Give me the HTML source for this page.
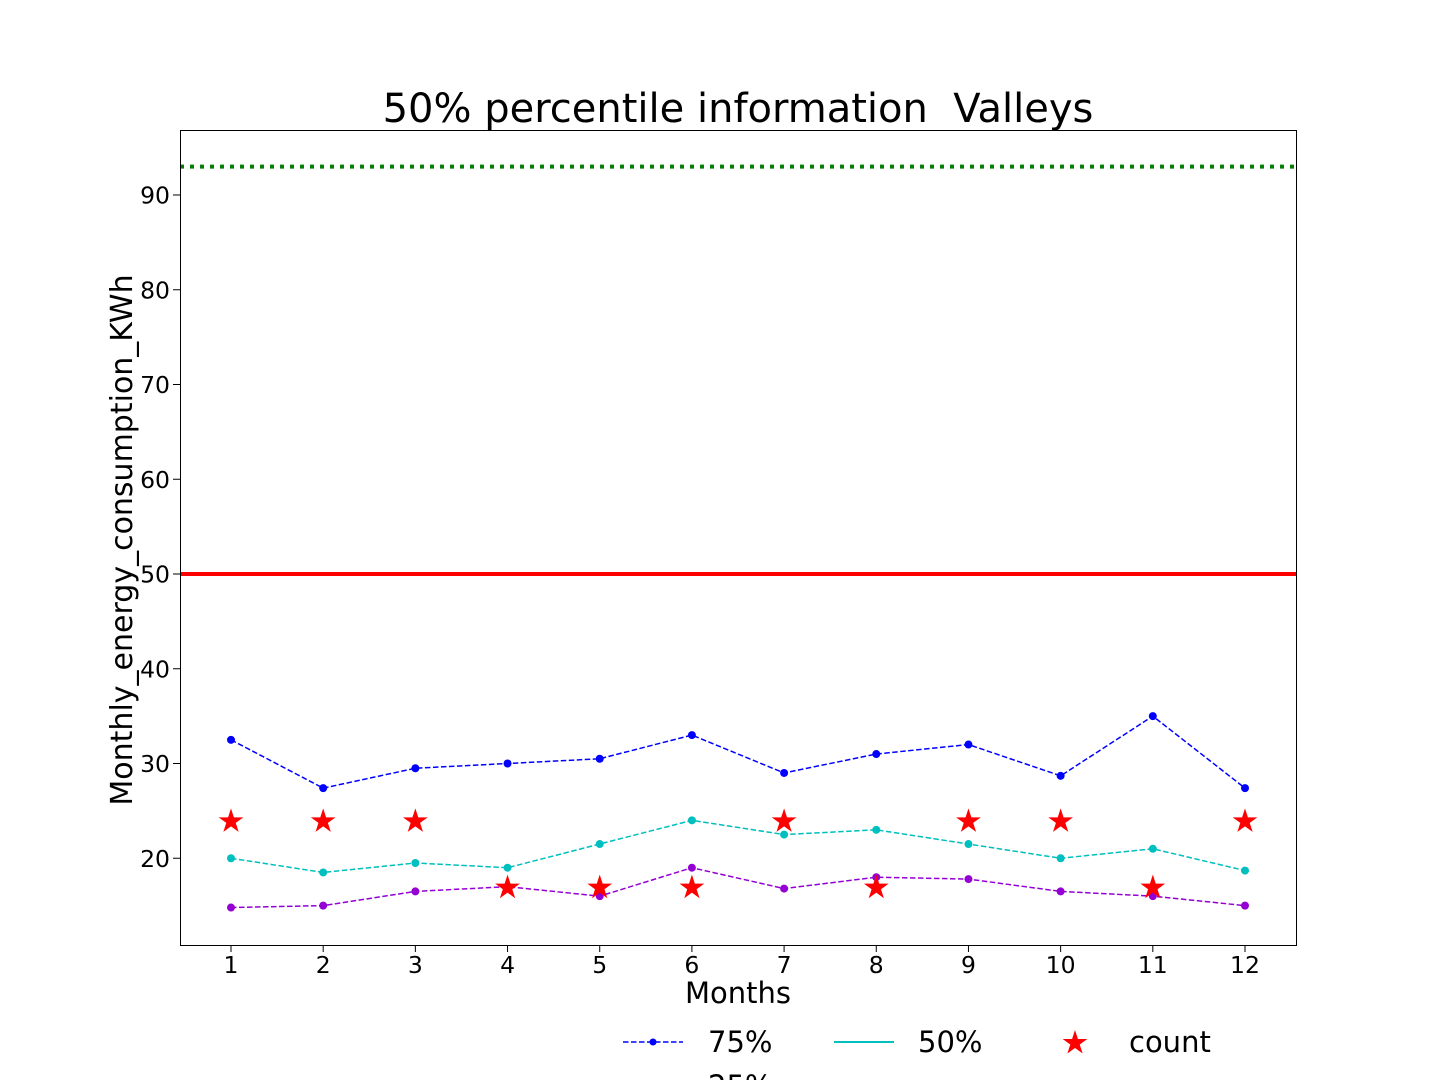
<!DOCTYPE html>
<html><head><meta charset="utf-8">
<style>
html,body{margin:0;padding:0;background:#fff;width:1440px;height:1080px;overflow:hidden}
svg text{font-family:"DejaVu Sans","Liberation Sans",sans-serif}
</style></head>
<body>
<svg id="chart" width="1440" height="1080" xmlns="http://www.w3.org/2000/svg">
<rect x="0" y="0" width="1440" height="1080" fill="#fff"/>
<text x="738" y="122" font-size="40" text-anchor="middle">50% percentile information&#160; Valleys</text>
<g id="plot"></g>
<rect x="180.5" y="130.5" width="1116" height="815" fill="none" stroke="#000" stroke-width="1"/>
<text x="738" y="1003" font-size="29" text-anchor="middle">Months</text>
<text transform="translate(132,540) rotate(-90)" font-size="30" text-anchor="middle">Monthly_energy_consumption_KWh</text>
<g id="legend"></g>
</svg>
<script>
const months = [1,2,3,4,5,6,7,8,9,10,11,12];
const p75 = [32.5,27.4,29.5,30,30.5,33,29,31,32,28.7,35,27.4];
const p50 = [20,18.5,19.5,19,21.5,24,22.5,23,21.5,20,21,18.7];
const p25 = [14.8,15,16.5,17,16,19,16.8,18,17.8,16.5,16,15];
const counts = [24,24,24,17,17,17,24,17,24,24,17,24];
const yTicks = [20,30,40,50,60,70,80,90];
const refRed = 50;
const refGreen = 93;

const NS = "http://www.w3.org/2000/svg";
function xS(v){ return 231 + (v-1)*(1245-231)/11; }
function yS(v){ return 574 - (v-50)*(379/40); }
const plot = document.getElementById('plot');
function mk(tag, attrs, parent){
  const e = document.createElementNS(NS, tag);
  for (const k in attrs) e.setAttribute(k, attrs[k]);
  (parent||plot).appendChild(e);
  return e;
}
months.forEach(m=>{
  const t = mk('line',{x1:xS(m),x2:xS(m),y1:945,y2:952,stroke:'#000','stroke-width':1});
  
  
  const l = mk('text',{x:xS(m),y:973,'font-size':23.5,'text-anchor':'middle'});
  l.textContent = m;
  
  
});
yTicks.forEach(v=>{
  const t = mk('line',{x1:173,x2:180,y1:yS(v),y2:yS(v),stroke:'#000','stroke-width':1});
  
  
  const l = mk('text',{x:170,y:yS(v)+8.5,'font-size':23.5,'text-anchor':'end'});
  l.textContent = v;
  
  
});
const rl = mk('line',{x1:180,x2:1296,y1:yS(refRed),y2:yS(refRed),stroke:'#ff0000','stroke-width':4});


const gl = mk('line',{x1:180,x2:1296,y1:yS(refGreen),y2:yS(refGreen),stroke:'#008000','stroke-width':4,'stroke-dasharray':'4 6'});


function series(vals,color,name){
  const pts = vals.map((v,i)=>xS(months[i])+','+yS(v)).join(' ');
  const pl = mk('polyline',{points:pts,fill:'none',stroke:color,'stroke-width':1.5,'stroke-dasharray':'5.5 2.5'});
  
  
  vals.forEach((v,i)=>{
    const c = mk('circle',{cx:xS(months[i]),cy:yS(v),r:4,fill:color});
    
    
  });
}
series(p75,'#0000ff','p75');
series(p50,'#00bfbf','p50');
series(p25,'#9400d3','p25');
function starPath(cx,cy,R){
  const r = R*0.382; let d='';
  for(let i=0;i<10;i++){
    const rad = i%2?r:R; const a = -Math.PI/2 + i*Math.PI/5;
    d += (i?'L':'M')+(cx+rad*Math.cos(a)).toFixed(2)+','+(cy+rad*Math.sin(a)).toFixed(2);
  }
  return d+'Z';
}
counts.forEach((v,i)=>{
  const s = mk('path',{d:starPath(xS(months[i]),yS(v)+1,13),fill:'#ff0000'});
  
  
});
const lg = document.getElementById('legend');
const a = mk('line',{x1:623,x2:683,y1:1042,y2:1042,stroke:'#0000ff','stroke-width':1.5,'stroke-dasharray':'5.5 2.5'},lg);
 
const ac = mk('circle',{cx:653,cy:1042,r:3.5,fill:'#0000ff'},lg);
 
const at = mk('text',{x:708,y:1052,'font-size':29},lg); at.textContent='75%';
 
const b = mk('line',{x1:834,x2:894,y1:1042,y2:1042,stroke:'#00bfbf','stroke-width':2},lg);
 
const bt = mk('text',{x:918,y:1052,'font-size':29},lg); bt.textContent='50%';
 
const cs = mk('path',{d:starPath(1075,1043,13),fill:'#ff0000'},lg);
 
const ct = mk('text',{x:1129,y:1052,'font-size':29},lg); ct.textContent='count';
 
const dt = mk('text',{x:708,y:1096,'font-size':29},lg); dt.textContent='25%';
 
</script>
</body></html>
